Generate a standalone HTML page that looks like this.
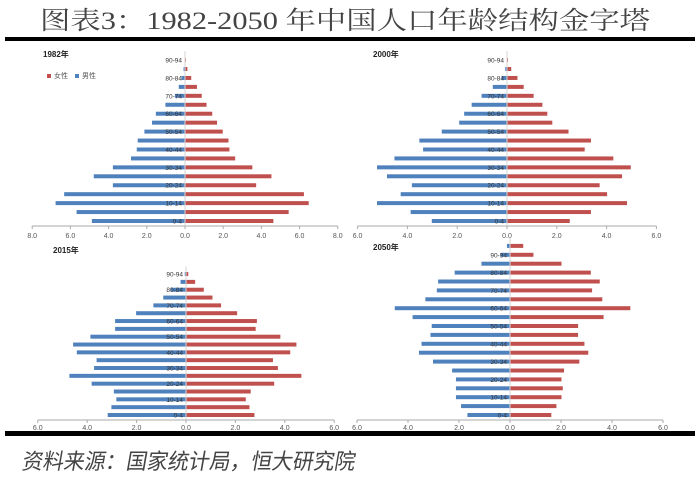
<!DOCTYPE html>
<html><head><meta charset="utf-8"><style>
body{margin:0;background:#fff;width:700px;height:479px;overflow:hidden}
svg{display:block}
</style></head><body>
<svg id="s" width="700" height="479" xmlns="http://www.w3.org/2000/svg">
<text x="40" y="29" textLength="610" lengthAdjust="spacingAndGlyphs" font-family="'Liberation Serif','Noto Serif CJK SC',serif" font-size="25" fill="#444">图表3：1982-2050 年中国人口年龄结构金字塔</text>
<rect x="5" y="37" width="690" height="4" fill="#000"/>
<rect x="5" y="431" width="690" height="5" fill="#000"/>
<text x="22" y="469" textLength="333" lengthAdjust="spacingAndGlyphs" font-family="'Liberation Sans','Noto Sans CJK SC',sans-serif" font-size="22" fill="#444" transform="translate(82,0) skewX(-10)">资料来源：国家统计局，恒大研究院</text>
</svg>
<script>
var s=document.getElementById('s'),NS='http://www.w3.org/2000/svg';
function el(t,a,txt){var e=document.createElementNS(NS,t);for(var k in a)e.setAttribute(k,a[k]);if(txt)e.textContent=txt;s.appendChild(e);return e;}
var F="'Liberation Sans','Noto Sans CJK SC',sans-serif";
function chart(o){
 var cx=o.cx,ax=o.ay,sc=o.sc;
 el('line',{x1:cx-o.max*sc,y1:ax,x2:cx+o.max*sc,y2:ax,stroke:'#aaa','stroke-width':1});
 el('line',{x1:cx,y1:o.y0-o.n*o.sp,x2:cx,y2:ax,stroke:'#ccc','stroke-width':0.8});
 for(var v=-o.max;v<=o.max;v+=2){var x=cx+v*sc;el('line',{x1:x,y1:ax,x2:x,y2:ax+3,stroke:'#aaa'});
  el('text',{x:x,y:ax+o.lo,'text-anchor':'middle','font-family':F,'font-size':7,fill:'#555'},Math.abs(v).toFixed(1));}
 for(var i=0;i<o.f.length;i++){var y=o.y0-i*o.sp;
  el('rect',{x:cx+0.5,y:y-2,width:o.f[i]*sc,height:4,fill:'#c0504d'});
  el('rect',{x:cx-0.5-o.m[i]*sc,y:y-2,width:o.m[i]*sc,height:4,fill:'#4f81bd'});}
 o.labs.forEach(function(l){var y=o.y0-l[0]*o.sp;el('text',{x:cx-3,y:y+2.5,'text-anchor':'end','font-family':F,'font-size':6.5,fill:'#333'},l[1]);});
 el('text',{x:o.tx,y:o.ty,'font-family':F,'font-size':8,'font-weight':'bold',fill:'#222'},o.t);
}
var L=[[0,'0-4'],[2,'10-14'],[4,'20-24'],[6,'30-34'],[8,'40-44'],[10,'50-54'],[12,'60-64'],[14,'70-74'],[16,'80-84'],[18,'90-94']];
chart({cx:185,ay:226,sc:19.1,max:8,lo:12,y0:221,sp:8.94,n:19,t:'1982年',tx:43,ty:57,labs:L,
f:[4.6,5.4,6.45,6.2,3.7,4.5,3.5,2.6,2.3,2.25,1.95,1.65,1.4,1.1,0.85,0.6,0.3,0.1,0.02],
m:[4.85,5.65,6.75,6.3,3.75,4.75,3.75,2.8,2.5,2.45,2.1,1.7,1.5,1.0,0.5,0.3,0.15,0.05,0]});
chart({cx:507,ay:226,sc:24.9,max:6,lo:12,y0:221,sp:8.94,n:19,t:'2000年',tx:373,ty:57,labs:L,
f:[2.5,3.35,4.8,4.0,3.7,4.6,4.95,4.25,3.1,3.35,2.45,1.8,1.6,1.4,1.05,0.65,0.4,0.15,0.02],
m:[3.0,3.85,5.2,4.25,3.8,4.8,5.2,4.5,3.35,3.5,2.6,1.9,1.7,1.4,1.0,0.55,0.2,0.05,0]});
chart({cx:186,ay:420,sc:24.7,max:6,lo:10,y0:415,sp:7.83,n:19,t:'2015年',tx:53,ty:253,labs:L,
f:[2.75,2.55,2.4,2.6,3.55,4.65,3.7,3.5,4.2,4.45,3.8,2.8,2.85,2.05,1.4,1.05,0.7,0.35,0.07],
m:[3.15,3.0,2.8,2.9,3.8,4.7,3.7,3.6,4.4,4.55,3.85,2.85,2.85,2.0,1.3,0.9,0.6,0.2,0.03]});
chart({cx:510,ay:420,sc:25.5,max:6,lo:10,y0:415,sp:8.9,n:20,t:'2050年',tx:373,ty:250,labs:L,
f:[1.6,1.8,2.0,2.05,2.0,2.1,2.7,3.05,2.9,2.65,2.65,3.65,4.7,3.6,3.2,3.5,3.15,2.0,0.9,0.5],
m:[1.65,1.9,2.1,2.1,2.1,2.25,3.0,3.55,3.45,3.1,3.05,3.8,4.5,3.3,2.85,2.8,2.15,1.1,0.35,0.1]});
el('rect',{x:47,y:74,width:4,height:4,fill:'#c0504d'});
el('text',{x:54,y:78,'font-family':F,'font-size':7,fill:'#555'},'女性');
el('rect',{x:75,y:74,width:4,height:4,fill:'#4f81bd'});
el('text',{x:82,y:78,'font-family':F,'font-size':7,fill:'#555'},'男性');
</script>
</body></html>
